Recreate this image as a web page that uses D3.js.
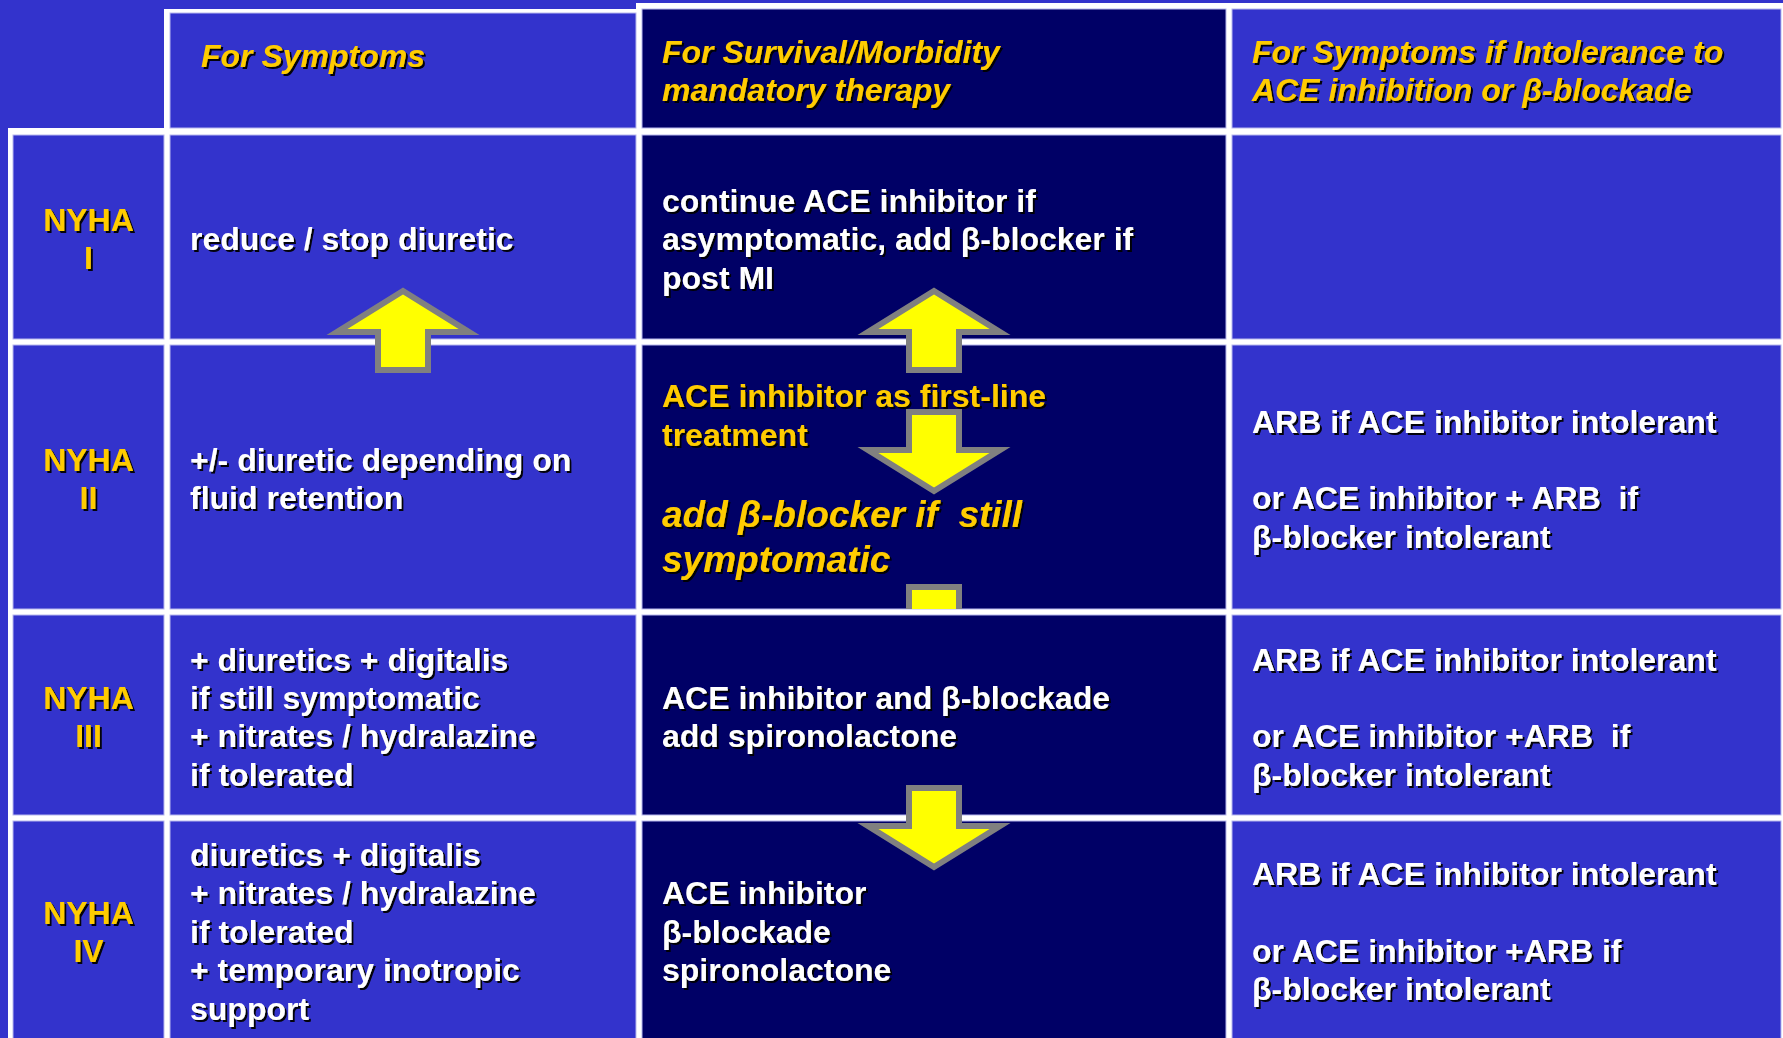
<!DOCTYPE html>
<html><head><meta charset="utf-8">
<script src="https://cdn.jsdelivr.net/npm/d3@7"></script>
<style>
html,body{margin:0;padding:0;background:#3333CC;overflow:hidden}
text{font-family:"Liberation Sans",Arial,sans-serif;font-weight:bold;white-space:pre}
</style>
</head><body>
<svg id="chart" width="1783" height="1038"></svg>
<script>
// ---------- data ----------
const columns = ["NYHA class", "For Symptoms", "For Survival/Morbidity mandatory therapy", "For Symptoms if Intolerance to ACE inhibition or β-blockade"];
const headerLines = [
  [],
  ["For Symptoms"],
  ["For Survival/Morbidity", "mandatory therapy"],
  ["For Symptoms if Intolerance to", "ACE inhibition or β-blockade"]
];
const nyhaClasses = ["I", "II", "III", "IV"];
const symptomTherapy = [
  ["reduce / stop diuretic"],
  ["+/- diuretic depending on", "fluid retention"],
  ["+ diuretics + digitalis", "if still symptomatic", "+ nitrates / hydralazine", "if tolerated"],
  ["diuretics + digitalis", "+ nitrates / hydralazine", "if tolerated", "+ temporary inotropic", "support"]
];
const survivalTherapy = [
  ["continue ACE inhibitor if", "asymptomatic, add β-blocker if", "post MI"],
  ["ACE inhibitor as first-line", "treatment", "", "add β-blocker if  still", "symptomatic"],
  ["ACE inhibitor and β-blockade", "add spironolactone"],
  ["ACE inhibitor", "β-blockade", "spironolactone"]
];
// line kinds: n = normal, h = highlighted, e = emphasised
const survivalKinds = [
  ["n", "n", "n"],
  ["h", "h", "h", "e", "e"],
  ["n", "n"],
  ["n", "n", "n"]
];
const intoleranceTherapy = [
  [],
  ["ARB if ACE inhibitor intolerant", "", "or ACE inhibitor + ARB  if", "β-blocker intolerant"],
  ["ARB if ACE inhibitor intolerant", "", "or ACE inhibitor +ARB  if", "β-blocker intolerant"],
  ["ARB if ACE inhibitor intolerant", "", "or ACE inhibitor +ARB if", "β-blocker intolerant"]
];
// therapy escalation arrows: column, direction, between/within rows
const arrowSteps = [
  {col: 1, dir: "up",   rowEdge: 1, shift: -13},
  {col: 2, dir: "up",   rowEdge: 1, shift: -13},
  {col: 2, dir: "down", rowEdge: 1, shift: 105},
  {col: 2, dir: "down", rowEdge: 2, shift: 10, clip: true},
  {col: 2, dir: "down", rowEdge: 3, shift: 5}
];

// ---------- layout ----------
const W = 1783, H = 1038;
const colX = [[13, 164], [170, 636], [642, 1226], [1232, 1781]];
const headerY = [null, [13, 128], [9, 128], [9, 128]];
const rowY = [[135, 339], [345, 609], [615, 815], [821, 1060]];
const textBand = [[135, 339], [345, 609], [615, 815], [821, 1038]];
const BLUE = "#3333CC", NAVY = "#000066", WHITE = "#FFFFFF", GOLD = "#FFCC00";
const colFill = [BLUE, BLUE, NAVY, BLUE];
const FS = 32, FS_E = 37;

const svg = d3.select("#chart");
const defs = svg.append("defs");
const f = defs.append("filter").attr("id", "shadow").attr("x", "-5%").attr("y", "-20%").attr("width", "110%").attr("height", "140%");
f.append("feDropShadow").attr("dx", 2).attr("dy", 2).attr("stdDeviation", 0.4)
  .attr("flood-color", "#000").attr("flood-opacity", 0.95);
defs.append("clipPath").attr("id", "row2clip").append("rect")
  .attr("x", 0).attr("y", rowY[1][0]).attr("width", W).attr("height", rowY[1][1] - rowY[1][0]);

svg.append("rect").attr("width", W).attr("height", H).attr("fill", BLUE);

// white grid backing
const backing = [
  {x: 164, y: 9, w: 642 - 164, h: 135 - 9},
  {x: 636, y: 3, w: W - 636 + 10, h: 135 - 3},
  {x: 8, y: 128, w: W - 8 + 10, h: H - 128 + 10}
];
svg.append("g").selectAll("rect").data(backing).join("rect")
  .attr("x", d => d.x).attr("y", d => d.y).attr("width", d => d.w).attr("height", d => d.h)
  .attr("fill", WHITE);

// cells
const cells = [];
for (let c = 1; c < 4; c++) cells.push({c, y0: headerY[c][0], y1: headerY[c][1]});
for (let r = 0; r < 4; r++) for (let c = 0; c < 4; c++) cells.push({c, y0: rowY[r][0], y1: rowY[r][1]});
svg.append("g").selectAll("rect").data(cells).join("rect")
  .attr("x", d => colX[d.c][0]).attr("y", d => d.y0)
  .attr("width", d => colX[d.c][1] - colX[d.c][0]).attr("height", d => d.y1 - d.y0)
  .attr("fill", d => colFill[d.c]).attr("stroke", "#B8B8EE").attr("stroke-width", 1);

// text helpers
function block(lines, sizes, y0, y1) {
  const adv = sizes.map(s => 1.2 * s);
  const total = d3.sum(adv);
  let top = (y0 + y1) / 2 - total / 2;
  return lines.map((t, i) => {
    const b = top + adv[i] / 2 + 0.35 * sizes[i] + 2;
    top += adv[i];
    return b;
  });
}
const tg = svg.append("g").attr("filter", "url(#shadow)");
function put(items) {
  tg.append("g").selectAll("text").data(items.filter(d => d.t !== "")).join("text")
    .attr("x", d => d.x).attr("y", d => d.y)
    .attr("text-anchor", d => d.anchor || "start")
    .attr("font-size", d => d.size)
    .attr("font-style", d => d.italic ? "italic" : "normal")
    .attr("fill", d => d.fill)
    .text(d => d.t);
}

// headers (top-anchored)
const headerDx = [0, 31, 20, 20];
headerLines.forEach((lines, c) => {
  if (!lines.length) return;
  put(lines.map((t, i) => ({t, x: colX[c][0] + headerDx[c], y: headerY[c][0] + 54 + i * 37.5,
    size: FS, italic: true, fill: GOLD})));
});

// rows
nyhaClasses.forEach((cls, r) => {
  const [b0, b1] = textBand[r];
  const lines = ["NYHA", cls];
  const ys = block(lines, [FS, FS], b0, b1);
  put(lines.map((t, i) => ({t, x: (colX[0][0] + colX[0][1]) / 2, y: ys[i], anchor: "middle", size: FS, fill: GOLD})));

  const s1 = symptomTherapy[r];
  const ys1 = block(s1, s1.map(() => FS), b0, b1);
  put(s1.map((t, i) => ({t, x: colX[1][0] + 20, y: ys1[i], size: FS, fill: WHITE})));

  const s2 = survivalTherapy[r], k2 = survivalKinds[r];
  const sz2 = k2.map(k => k === "e" ? FS_E : FS);
  const ys2 = block(s2, sz2, b0, b1);
  put(s2.map((t, i) => ({t, x: colX[2][0] + 20, y: ys2[i], size: sz2[i],
    italic: k2[i] === "e", fill: k2[i] === "n" ? WHITE : GOLD})));

  const s3 = intoleranceTherapy[r];
  const ys3 = block(s3, s3.map(() => FS), b0, b1);
  put(s3.map((t, i) => ({t, x: colX[3][0] + 20, y: ys3[i], size: FS, fill: WHITE})));
});

// arrows
const SH = 25, HH = 66, SHAFT = 38, HEAD = 41;
function arrowPts(cx, j, dir) {
  const s = dir === "up" ? -1 : 1;
  return [[cx, j + s * HEAD], [cx + HH, j], [cx + SH, j], [cx + SH, j - s * SHAFT],
          [cx - SH, j - s * SHAFT], [cx - SH, j], [cx - HH, j]];
}
const ag = svg.append("g");
ag.selectAll("path").data(arrowSteps).join("path")
  .attr("d", d => {
    const cx = (colX[d.col][0] + colX[d.col][1]) / 2;
    const j = rowY[d.rowEdge][0] + d.shift;
    return d3.line()(arrowPts(cx, j, d.dir)) + "Z";
  })
  .attr("clip-path", d => d.clip ? "url(#row2clip)" : null)
  .attr("fill", "#FFFF00").attr("stroke", "#808080").attr("stroke-width", 6)
  .attr("stroke-linejoin", "miter");
</script>
</body></html>
